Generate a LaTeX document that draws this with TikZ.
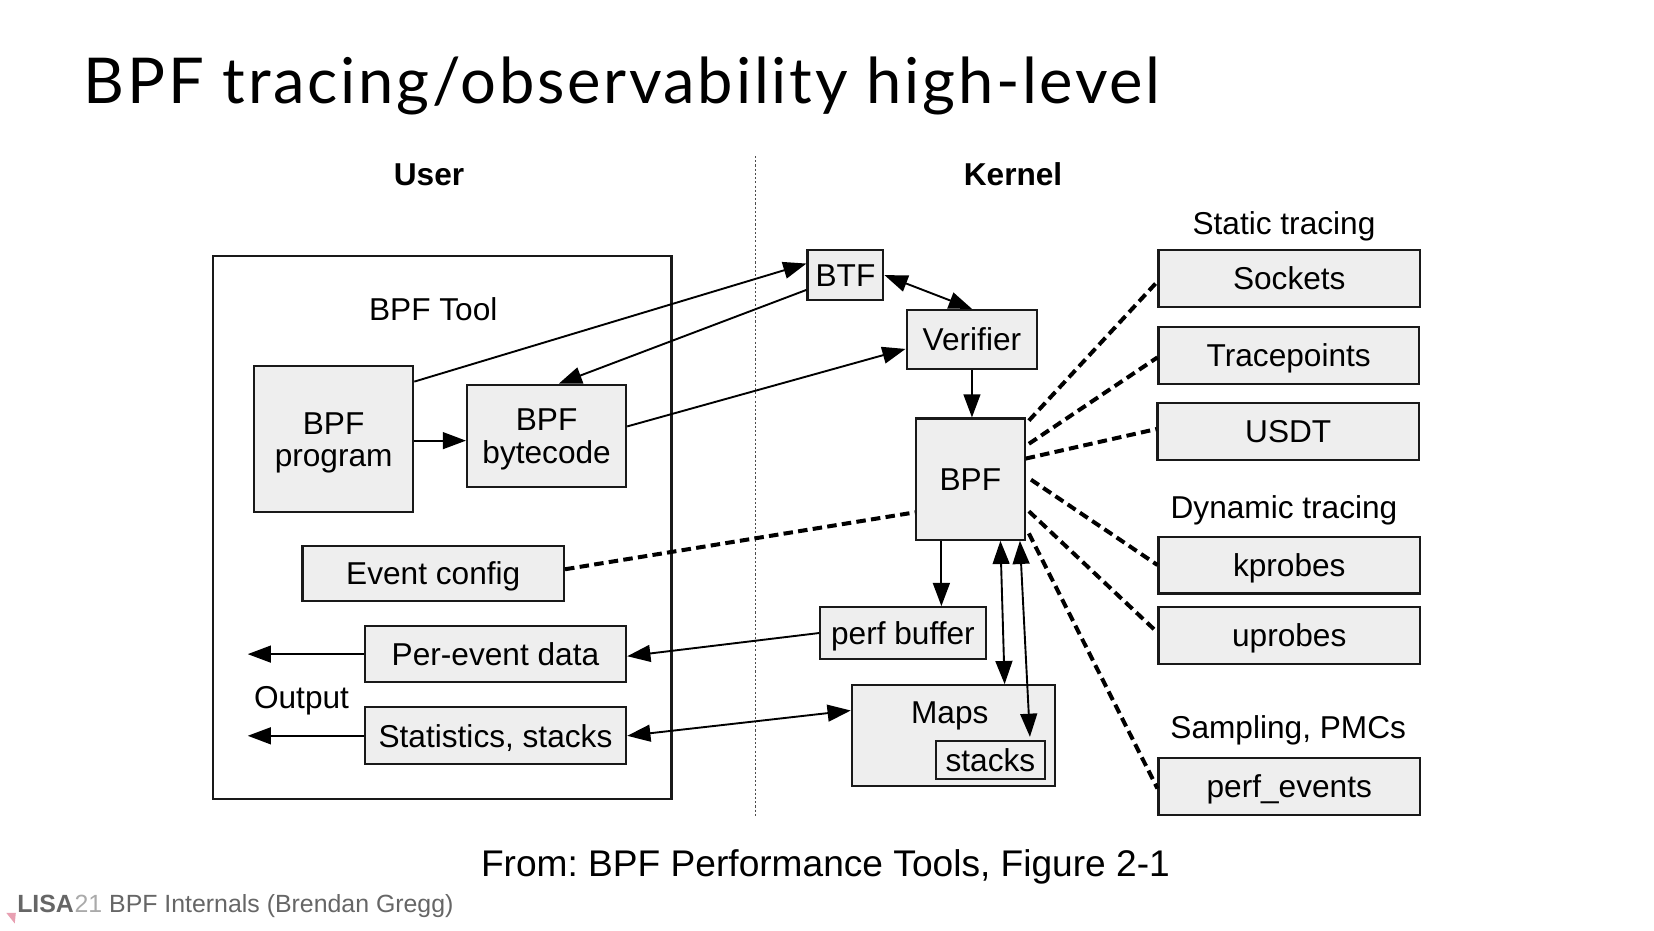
\documentclass[tikz,border=0pt]{standalone}
\usepackage{fontspec}
\setmainfont{Liberation Sans}
\newfontfamily\titlefont[LetterSpace=4.3]{Lato}
\usetikzlibrary{arrows.meta,calc}
\definecolor{boxgray}{HTML}{EEEEEE}
\definecolor{footgray}{HTML}{666666}
\definecolor{lightgray21}{HTML}{AAAAAA}
\definecolor{lisapink}{HTML}{E8A0B2}
\frenchspacing
\begin{document}
\begin{tikzpicture}[x=0.5pt,y=-0.5pt,
  box/.style={draw=black!90, line width=1pt, fill=boxgray, inner sep=0pt, text height=10.7pt, text depth=0pt, font=\fontsize{15}{16.5}\selectfont},
  boxtwo/.style={draw=black!90, line width=1pt, fill=boxgray, inner sep=0pt, text height=10.7pt, text depth=15.5pt, font=\fontsize{15}{15.5}\selectfont},
  lbl/.style={inner sep=0pt, text height=10.7pt, text depth=0pt, font=\fontsize{15}{16.5}\selectfont},
  arr/.style={line width=0.9pt, -{Triangle[length=11pt,width=8pt]}},
  darr/.style={line width=0.9pt, {Triangle[length=11pt,width=8pt]}-{Triangle[length=11pt,width=8pt]}},
  dsh/.style={line width=1.9pt, dash pattern=on 4.5pt off 2.5pt},
]
\useasboundingbox (0,0) rectangle (1569,883);

% title
\node[anchor=base west, inner sep=0pt, font=\titlefont\fontsize{30}{36}\selectfont] (title) at (79,98) {BPF tracing/observability high-level};

% column headers and divider
\node[lbl, font=\bfseries\fontsize{15}{16.5}\selectfont] (user) at (407,165) {User};
\node[lbl, font=\bfseries\fontsize{15}{16.5}\selectfont] (kernel) at (961,165) {Kernel};
\coordinate (divtop) at (717,148);
\coordinate (divbot) at (717,775);
\draw[black!70, line width=0.5pt, dash pattern=on 1pt off 1pt] (divtop) -- (divbot);

% user side
\node[draw=black!90, line width=1pt, inner sep=0pt, minimum width=217.5pt, minimum height=257.5pt] (tool) at (419.5,500.5) {};
\node[lbl] (toollbl) at (411,293) {BPF Tool};
\node[boxtwo, minimum width=75.5pt, minimum height=69.5pt] (prog) at (316.5,416.5) {\begin{tabular}[t]{@{}c@{}}BPF\\program\end{tabular}};
\node[boxtwo, minimum width=75.5pt, minimum height=48.5pt] (byte) at (518.5,413.5) {\begin{tabular}[t]{@{}c@{}}BPF\\bytecode\end{tabular}};
\node[box, minimum width=124pt, minimum height=26pt] (evt) at (411,544) {Event config};
\node[box, minimum width=124pt, minimum height=26.5pt] (per) at (470,620.5) {Per-event data};
\node[box, minimum width=124pt, minimum height=27pt] (stat) at (470,698) {Statistics, stacks};
\node[lbl] (outlbl) at (286,661) {Output};
\coordinate (out1) at (235,620.5);
\coordinate (out2) at (235,698);

% kernel side
\node[box, minimum width=36pt, minimum height=24pt] (btf) at (802,261) {BTF};
\node[box, minimum width=62pt, minimum height=28pt] (ver) at (922,322) {Verifier};
\node[box, minimum width=51.5pt, minimum height=57.5pt] (bpf) at (920.5,454.5) {BPF};
\node[box, minimum width=78.5pt, minimum height=24.5pt] (perf) at (856.5,600.5) {perf buffer};
\node[box, minimum width=96.5pt, minimum height=48pt] (maps) at (904.5,698) {};
\node[lbl] (mapslbl) at (901,676) {Maps};
\node[box, minimum width=51.5pt, minimum height=18pt] (stk) at (939.5,721) {stacks};

% event sources
\node[lbl] (statlbl) at (1218,212) {Static tracing};
\node[box, minimum width=124pt, minimum height=27pt] (sock) at (1223,264) {Sockets};
\node[box, minimum width=123.5pt, minimum height=27pt] (trace) at (1222.5,337) {Tracepoints};
\node[box, minimum width=124pt, minimum height=27pt] (usdt) at (1222,409) {USDT};
\node[lbl] (dynlbl) at (1218,481) {Dynamic tracing};
\node[box, minimum width=124pt, minimum height=27pt] (kpr) at (1223,536) {kprobes};
\node[box, minimum width=124pt, minimum height=27pt] (upr) at (1223,603) {uprobes};
\node[lbl] (samplbl) at (1222,690) {Sampling, PMCs};
\node[box, minimum width=124pt, minimum height=27pt] (pev) at (1223,746) {perf\_events};

% connectors
\draw[arr] ($(prog.north east)+(0,16)$) -- ($(btf.west)+(0,-11)$);
\draw[arr] ($(btf.west)+(0,14)$) -- ($(byte.north)+(11.5,0)$);
\draw[arr] ($(byte.east)+(0,-9)$) -- ($(ver.west)+(0,9)$);
\draw[darr] (btf.east) -- (ver.north);
\draw[arr] (ver.south) -- (ver.south |- bpf.north);
\draw[arr] ($(prog.east)+(0,1.5)$) -- ($(byte.west)+(0,4.5)$);
\draw[dsh] ($(evt.east)+(0,-4)$) -- ($(bpf.west)+(0,31.5)$);
\draw[arr] ($(bpf.south)+(-27.5,0)$) -- ($(perf.north)+(36.5,0)$);
\draw[arr] (perf.west) -- ($(per.east)+(0,2)$);
\draw[darr] ($(maps.west)+(0,-24)$) -- (stat.east);
\draw[darr] ($(bpf.south)+(28.5,0)$) -- ($(maps.north)+(48.5,0)$);
\draw[darr] ($(bpf.south)+(47,0)$) -- ($(stk.north)+(37.5,-3)$);
\draw[arr] (per.west) -- (out1);
\draw[arr] (stat.west) -- (out2);

\draw[dsh] ($(bpf.north east)+(3,3)$) -- ($(sock.west)+(0,3)$);
\draw[dsh] ($(bpf.north east)+(3,25)$) -- ($(trace.west)+(0,2)$);
\draw[dsh] ($(bpf.north east)+(0,39)$) -- ($(usdt.west)+(0,-2)$);
\draw[dsh] ($(bpf.east)+(5,0.5)$) -- (kpr.west);
\draw[dsh] ($(bpf.east)+(3,30.5)$) -- ($(upr.west)+(0,-3)$);
\draw[dsh] ($(bpf.south east)+(3,-7)$) -- ($(pev.west)+(0,2)$);

% footer
\node[inner sep=0pt, text height=12.6pt, text depth=0pt, font=\fontsize{17.6}{20}\selectfont] (src) at (783,819) {From: BPF Performance Tools, Figure 2-1};
\node[anchor=base west, inner sep=0pt, text=footgray, font=\fontsize{11.8}{14}\selectfont] (foot) at (16,866) {{\bfseries LISA}\hspace{0.3pt}{\color{lightgray21}21} BPF Internals (Brendan Gregg)};
\fill[lisapink] (6,866) -- (15,866) -- (14,876) -- cycle;
\end{tikzpicture}
\end{document}
